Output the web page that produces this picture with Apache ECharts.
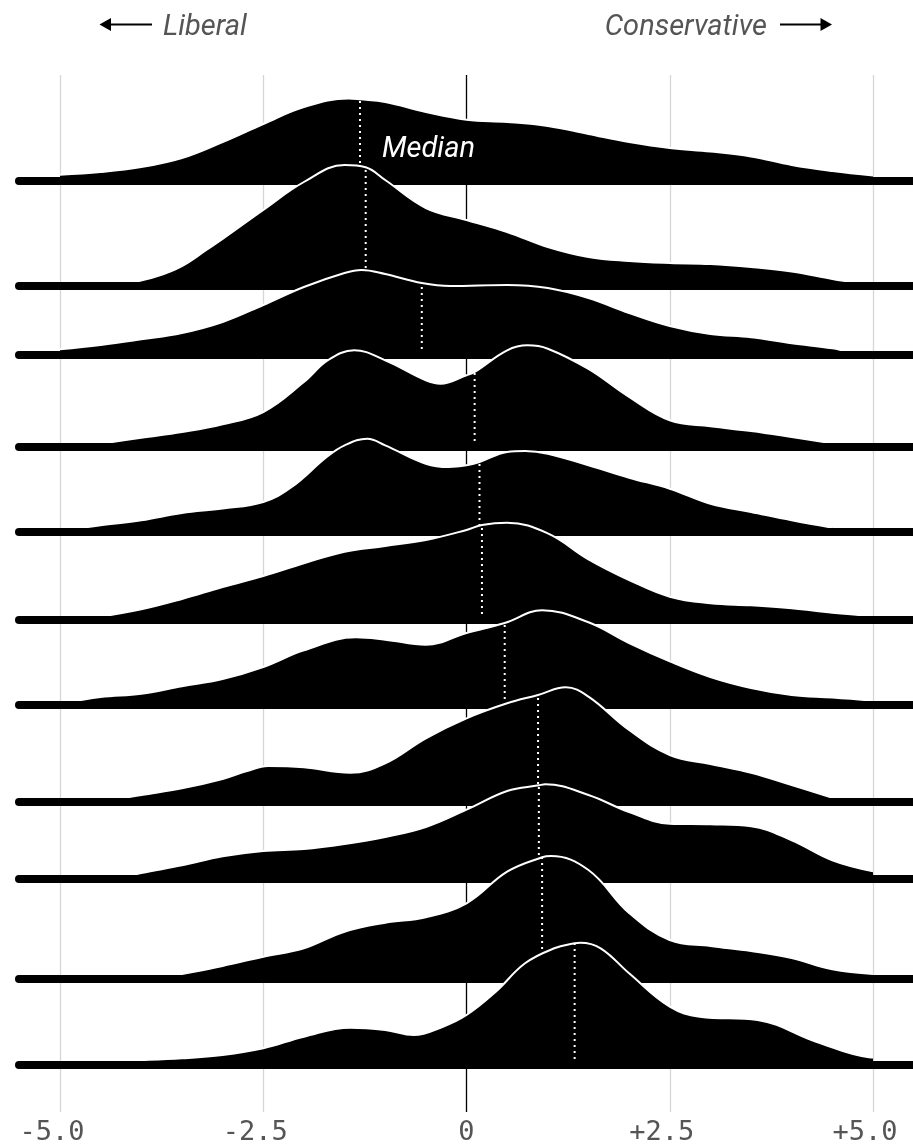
<!DOCTYPE html>
<html>
<head>
<meta charset="utf-8">
<script src="https://cdn.jsdelivr.net/npm/echarts@6/dist/echarts.min.js"></script>
<style>
html,body{margin:0;padding:0;background:#fff;}
#chart{width:913px;height:1148px;}
</style>
</head>
<body>
<div id="chart"></div>
<script>
// ---------------- DATA ----------------
const tickValues = [-5, -2.5, 0, 2.5, 5];
const tickLabels = ['-5.0', '-2.5', '0', '+2.5', '+5.0'];
const leftLabel = 'Liberal';
const rightLabel = 'Conservative';
const medianLabel = 'Median';

// median ideology score for each ridge (top to bottom)
const medians = [-1.31, -1.24, -0.55, 0.1, 0.16, 0.19, 0.47, 0.88, 0.89, 0.93, 1.33];

// density curves: [score, relative density]
const density1 = [[-5,6.3],[-4.5,9],[-4,14],[-3.5,23],[-3,39],[-2.5,57],[-2,74],[-1.45,82.5],[-1.31,81.7],[-1,79],[-0.5,69],[0,61.3],[0.5,59],[1,55],[1.5,47],[2,39],[2.5,33],[3,29.5],[3.5,24.5],[4,16],[4.5,10],[5,5.5]];
const density2 = [[-4.4,0],[-4.2,2],[-3.8,10],[-3.5,20],[-3.2,36],[-3,47],[-2.5,76],[-2,104],[-1.5,121],[-1.24,118.7],[-1,106],[-0.5,78],[0,66],[0.5,54],[1,39],[1.5,29],[2,25],[2.5,23],[3,22],[3.5,19],[4,14.5],[4.5,7],[4.8,3]];
const density3 = [[-5,5.7],[-4.5,10],[-4,15.7],[-3.5,22],[-3,33],[-2.5,50],[-2,68],[-1.5,82],[-1.29,85],[-1,81],[-0.55,72],[-0.2,69],[0.5,70],[1,67],[1.5,57],[2,42],[2.5,29],[3,21],[3.5,17.7],[4,11.7],[4.5,6.7],[4.7,3]];
const density4 = [[-4.6,2],[-4,9.3],[-3.5,15],[-3,22.7],[-2.5,35],[-2,65],[-1.7,87],[-1.38,96.7],[-1,86.7],[-0.5,66.7],[-0.32,63.3],[0,71.7],[0.1,75],[0.5,96.7],[0.75,101.7],[1,98.3],[1.5,78],[2,50],[2.5,26.7],[3,20.7],[3.5,16],[4,10],[4.55,3]];
const density5 = [[-4.9,2],[-4.5,6.7],[-4,11.7],[-3.5,19],[-3,23.5],[-2.5,30],[-2.15,45],[-1.72,75],[-1.5,86.7],[-1.22,93.3],[-1,86.7],[-0.5,68.3],[-0.22,65],[0,66.7],[0.16,70],[0.5,80],[0.72,81],[1,78.3],[1.5,66.7],[2,54.3],[2.5,43.3],[3,28.3],[3.5,20],[4,11.7],[4.5,4.3]];
const density6 = [[-4.6,2],[-4,10.7],[-3.5,21],[-3,33],[-2.5,44],[-2,56.7],[-1.5,68.3],[-1,74],[-0.5,80],[0,90],[0.19,95],[0.5,97.3],[1,86.7],[1.5,60.7],[2,40],[2.5,23.3],[3,16.7],[3.5,14.7],[4,11.7],[4.5,7.3],[5,4]];
const density7 = [[-4.95,2],[-4.5,8],[-4,11.3],[-3.5,18.7],[-3,26],[-2.5,38],[-2,54.7],[-1.36,67.7],[-1,65.3],[-0.5,60.3],[0,72],[0.47,82],[0.93,94.7],[1.5,82.7],[2,62],[2.5,43.7],[3,28],[3.5,17],[4,10],[4.5,7.5],[5,4.3]];
const density8 = [[-4.35,2],[-4,7],[-3.5,13.7],[-3,23],[-2.7,31],[-2.44,36],[-2,34.7],[-1.43,29.3],[-1,38.7],[-0.5,63.7],[0,83.7],[0.5,98.7],[0.88,107],[1.22,114.7],[1.5,105.3],[2,72],[2.5,47],[3,38],[3.5,29.3],[4,17],[4.55,3]];
const density9 = [[-4.2,2],[-4,6],[-3.5,13.7],[-3,22.7],[-2.5,28],[-2,30],[-1.5,35],[-1,42],[-0.5,52],[0,69.3],[0.5,88],[0.89,93.7],[0.97,94.7],[1.5,84],[2,67],[2.5,55.3],[3,54.7],[3.5,52.7],[4,38.7],[4.5,18.7],[5,7.7]];
const density10 = [[-3.7,2],[-3.5,5],[-3,13],[-2.5,22.3],[-2,30.7],[-1.5,47.3],[-1,56.3],[-0.5,61.7],[0,75.7],[0.5,107.3],[0.93,121.7],[1.04,123],[1.5,109],[2,66],[2.5,39],[3,33],[3.5,28],[4,21],[4.5,9.7],[5,5]];
const density11 = [[-5,3.3],[-4.5,4],[-4,5],[-3.5,6.7],[-3,10],[-2.5,16.7],[-2,28.3],[-1.43,37.3],[-1,35],[-0.65,30],[-0.29,38.3],[0,50],[0.36,73.3],[0.72,101.7],[1.08,116.7],[1.33,121.7],[1.4,122.3],[1.65,116.7],[2,91.7],[2.5,58.3],[2.87,48.3],[3.58,45],[4.3,23.3],[4.95,7.7],[5,7.5]];

const densities = [density1, density2, density3, density4, density5, density6, density7, density8, density9, density10, density11];

// ---------------- LAYOUT ----------------
const W = 913;
const baselineY = [181, 286, 355, 447, 532, 620, 705, 802, 879, 979, 1065];
const RIDGE_H = 130;
const X0 = 60, XW = 813;          // pixel of -5 and width of the -5..5 span
const pxPerUnit = XW / 10;
const ridgeLeft = 19;
const xMinR = -5 - (X0 - ridgeLeft) / pxPerUnit;
const xMaxR = 5 + (W - X0 - XW) / pxPerUnit;
const GRID_TOP = 75, GRID_BOTTOM = 1112;

const grids = [{ left: X0, width: XW, top: GRID_TOP, height: GRID_BOTTOM - GRID_TOP }];
const xAxes = [{
  gridIndex: 0, type: 'value', min: -5, max: 5, interval: 2.5,
  axisLine: { show: false }, axisTick: { show: false },
  splitLine: { show: true, lineStyle: { color: ['#d6d6d6', '#d6d6d6', '#000000', '#d6d6d6', '#d6d6d6'], width: 1.3 } },
  axisLabel: {
    show: true, showMinLabel: true, showMaxLabel: true,
    formatter: v => {
      const i = tickValues.indexOf(v);
      if (i < 0) return '';
      return v === 0 ? '{z|' + tickLabels[i] + '}' : '{n|' + tickLabels[i] + '}';
    },
    rich: {
      z: { fontFamily: "'DejaVu Sans Mono', monospace", fontSize: 27, color: '#555' },
      n: { fontFamily: "'DejaVu Sans Mono', monospace", fontSize: 27, color: '#555', padding: [0, 16, 0, 0] }
    },
    margin: 7
  }
}];
const yAxes = [{ gridIndex: 0, type: 'value', min: 0, max: 1, show: false, splitLine: { show: false } }];
const series = [];

densities.forEach((d, i) => {
  const gi = i + 1;
  grids.push({ left: ridgeLeft, width: W - ridgeLeft, top: baselineY[i] - RIDGE_H, height: RIDGE_H });
  xAxes.push({ gridIndex: gi, type: 'value', min: xMinR, max: xMaxR, show: false, splitLine: { show: false } });
  yAxes.push({ gridIndex: gi, type: 'value', min: 0, max: RIDGE_H, show: false, splitLine: { show: false } });
  const zb = 10 + i * 4;
  series.push({
    type: 'line', xAxisIndex: gi, yAxisIndex: gi, data: d, smooth: 0.4, symbol: 'none',
    lineStyle: { color: '#ffffff', width: 2 },
    areaStyle: { color: '#000000', opacity: 1, origin: 'start' },
    silent: true, z: zb
  });
  const m = medians[i];
  const pt = d.find(p => p[0] === m);
  series.push({
    type: 'line', xAxisIndex: gi, yAxisIndex: gi, data: [[m, 0], [m, pt ? pt[1] : 0]],
    symbol: 'none', lineStyle: { color: '#ffffff', width: 2, type: [2, 4] }, silent: true, z: zb + 1
  });
  series.push({
    type: 'line', xAxisIndex: gi, yAxisIndex: gi, data: [[xMinR, 0], [xMaxR, 0]],
    symbol: 'none', lineStyle: { color: '#000000', width: 8, cap: 'round' }, clip: false, silent: true, z: zb + 2
  });
});

const arrowY = 24.5;
const textY = 27.5;
const graphic = [
  { type: 'line', shape: { x1: 152, y1: arrowY, x2: 108, y2: arrowY }, style: { stroke: '#000', lineWidth: 1.8 }, z: 100 },
  { type: 'polygon', shape: { points: [[99.5, arrowY], [111, arrowY - 6.5], [111, arrowY + 6.5]] }, style: { fill: '#000' }, z: 100 },
  { type: 'text', x: 163, y: textY, style: { text: leftLabel, font: 'italic 29px Roboto', fill: '#555', align: 'left', verticalAlign: 'middle' }, z: 100 },
  { type: 'text', x: 767, y: textY, style: { text: rightLabel, font: 'italic 29px Roboto', fill: '#555', align: 'right', verticalAlign: 'middle' }, z: 100 },
  { type: 'line', shape: { x1: 780, y1: arrowY, x2: 824, y2: arrowY }, style: { stroke: '#000', lineWidth: 1.8 }, z: 100 },
  { type: 'polygon', shape: { points: [[832, arrowY], [820.5, arrowY - 6.5], [820.5, arrowY + 6.5]] }, style: { fill: '#000' }, z: 100 },
  { type: 'text', x: 382, y: 150, style: { text: medianLabel, font: 'italic 29px Roboto', fill: '#fff', align: 'left', verticalAlign: 'middle' }, z: 100 }
];

const chart = echarts.init(document.getElementById('chart'), null, { renderer: 'canvas' });
chart.setOption({
  animation: false,
  backgroundColor: '#ffffff',
  grid: grids,
  xAxis: xAxes,
  yAxis: yAxes,
  series: series,
  graphic: graphic
});
</script>
</body>
</html>
